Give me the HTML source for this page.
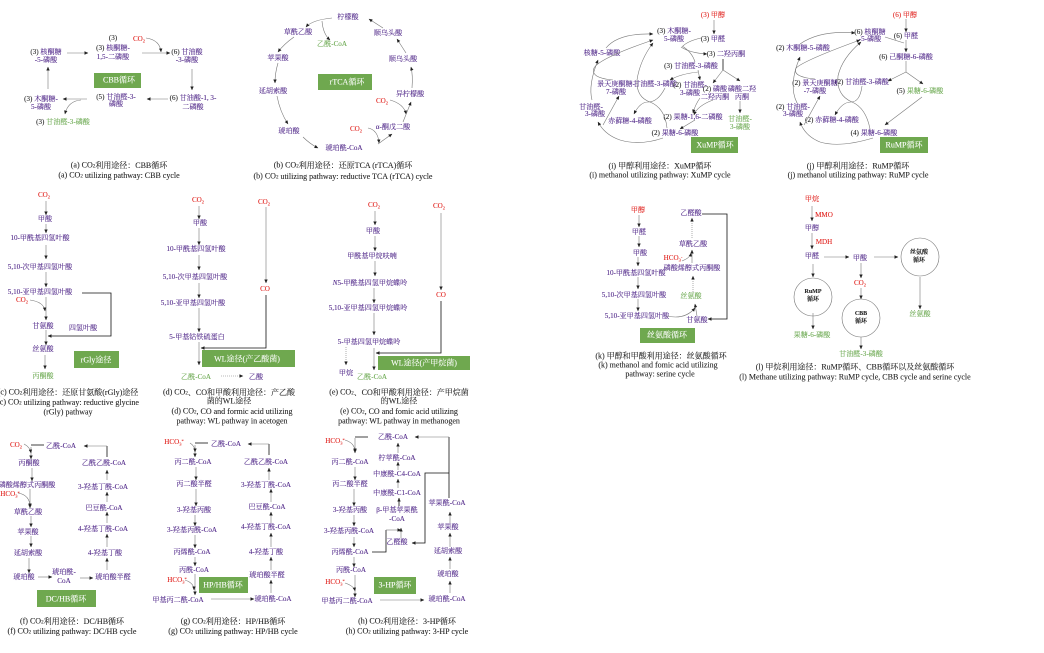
<!DOCTYPE html>
<html><head><meta charset="utf-8"><style>
html,body{margin:0;padding:0;background:#fff;width:1044px;height:653px;overflow:hidden}
svg{display:block;filter:blur(.35px)}
text{font-family:"Liberation Serif","Noto Serif CJK SC",serif;font-size:7.1px;text-anchor:middle;dominant-baseline:central;fill:#4f2688;stroke:#4f2688;stroke-width:.08}
.r,.r tspan{fill:#e0201c;stroke:#e0201c}.g{fill:#6aa84f;stroke:#6aa84f}.k{fill:#222;stroke:#222}
.c{fill:#222;stroke:#222;font-size:8px}
.b{fill:#fff;stroke:#fff;font-size:8px}
.d{fill:#222;stroke:#222;font-weight:bold;font-size:6px}
rect{fill:#6fa84f}
path{fill:none;stroke:#777;stroke-width:.6}
.a{marker-end:url(#m)}
.h{stroke:#111;stroke-width:.8}
.t{stroke-dasharray:1 1}
circle{fill:none;stroke:#777;stroke-width:.6}
</style></head><body>
<svg width="1044" height="653" viewBox="0 0 1044 653" xmlns="http://www.w3.org/2000/svg">
<defs><marker id="m" markerUnits="userSpaceOnUse" markerWidth="4" markerHeight="4" refX="3.5" refY="2" orient="auto"><path d="M0,.3L3.8,2L0,3.7z" style="fill:#222;stroke:none"/></marker></defs>

<!-- a -->
<text x="113" y="38" class="k">(3)</text>
<text x="113" y="48"><tspan class="k">(3) </tspan>核酮糖-</text><text x="113" y="57">1,5-二磷酸</text>
<text x="139" y="39" class="r">CO<tspan dy="1.5" font-size="4.5">2</tspan></text>
<text x="187" y="52"><tspan class="k">(6) </tspan>甘油酸</text><text x="187" y="60">-3-磷酸</text>
<text x="46" y="52"><tspan class="k">(3) </tspan>核酮糖</text><text x="46" y="60">-5-磷酸</text>
<rect x="94" y="73" width="47" height="15"/><text x="119" y="80" class="b">CBB循环</text>
<text x="193" y="98"><tspan class="k">(6) </tspan>甘油酸-1, 3-</text><text x="193" y="107">二磷酸</text>
<text x="116" y="97"><tspan class="k">(5) </tspan>甘油醛-3-</text><text x="116" y="104">磷酸</text>
<text x="41" y="99"><tspan class="k">(3) </tspan>木酮糖-</text><text x="41" y="107">5-磷酸</text>
<text x="63" y="122" class="g"><tspan class="k">(3) </tspan>甘油醛-3-磷酸</text>
<text x="119" y="165" class="c">(a) CO<tspan dy="1.5" font-size="5">2</tspan><tspan dy="-1.5">利用途径：CBB循环</tspan></text>
<text x="119" y="175" class="c">(a) CO<tspan dy="1.5" font-size="5">2</tspan><tspan dy="-1.5"> utilizing pathway: CBB cycle</tspan></text>
<path class="a" d="M67,53H88"/><path class="a" d="M142,53H170"/><path class="a" d="M146,38Q160,40 161,52"/>
<path class="a" d="M192,69V90"/><path class="a" d="M168,99H147"/><path class="a" d="M87,99H63"/>
<path class="a" d="M81,100Q68,101 65,114"/><path class="a" d="M48,89V67"/>

<!-- b -->
<text x="348" y="17">柠檬酸</text><text x="298" y="32">草酰乙酸</text><text x="332" y="44" class="g">乙酰-CoA</text>
<text x="278" y="58">苹果酸</text><text x="273" y="91">延胡索酸</text><text x="289" y="131">琥珀酸</text>
<text x="344" y="148">琥珀酰-CoA</text><text x="393" y="127">α-酮戊二酸</text>
<text x="356" y="129" class="r">CO<tspan dy="1.5" font-size="4.5">2</tspan></text><text x="382" y="101" class="r">CO<tspan dy="1.5" font-size="4.5">2</tspan></text>
<text x="410" y="94">异柠檬酸</text><text x="403" y="59">顺乌头酸</text><text x="388" y="33">顺乌头酸</text>
<rect x="318" y="74" width="54" height="16"/><text x="347" y="82" class="b">rTCA循环</text>
<text x="343" y="165" class="c">(b) CO<tspan dy="1.5" font-size="5">2</tspan><tspan dy="-1.5">利用途径：还原TCA (rTCA)循环</tspan></text>
<text x="343" y="176" class="c">(b) CO<tspan dy="1.5" font-size="5">2</tspan><tspan dy="-1.5"> utilizing pathway: reductive TCA (rTCA) cycle</tspan></text>
<path class="a" d="M332,18Q312,20 306,27"/><path class="a" d="M322,21Q323,34 330,40"/>
<path class="a" d="M294,37Q284,44 278,52"/><path class="a" d="M278,63Q275,73 275,83"/>
<path class="a" d="M277,96Q280,112 288,124"/><path class="a" d="M303,137Q310,144 318,148"/>
<path class="a" d="M378,144L392,134"/><path class="a" d="M368,128Q378,130 379,143"/>
<path class="a" d="M403,122L411,102"/><path class="a" d="M390,100Q404,104 406,114"/>
<path class="a" d="M412,88Q413,75 411,67"/><path class="a" d="M406,53L397,39"/><path class="a" d="M383,28L369,19"/>

<!-- i -->
<text x="713" y="15" class="r"><tspan class="k">(3) </tspan>甲醇</text><text x="713" y="39"><tspan class="k">(3) </tspan>甲醛</text>
<text x="674" y="31"><tspan class="k">(3) </tspan>木酮糖-</text><text x="674" y="39">5-磷酸</text>
<text x="602" y="53">核糖-5-磷酸</text><text x="726" y="54"><tspan class="k">(3) </tspan>二羟丙酮</text>
<text x="691" y="66"><tspan class="k">(3) </tspan>甘油醛-3-磷酸</text>
<text x="616" y="84">景天庚酮糖-</text><text x="616" y="92">7-磷酸</text><text x="655" y="84">甘油醛-3-磷酸</text>
<text x="690" y="85"><tspan class="k">(2) </tspan>甘油醛-</text><text x="690" y="93">3-磷酸</text>
<text x="715" y="89"><tspan class="k">(2) </tspan>磷酸</text><text x="715" y="97">二羟丙酮</text>
<text x="742" y="89">磷酸二羟</text><text x="742" y="97">丙酮</text>
<text x="740" y="119" class="g">甘油醛-</text><text x="740" y="127" class="g">3-磷酸</text>
<text x="591" y="107">甘油醛-</text><text x="595" y="114">3-磷酸</text><text x="630" y="121">赤藓糖-4-磷酸</text>
<text x="693" y="117"><tspan class="k">(2) </tspan>果糖-1,6-二磷酸</text><text x="675" y="133"><tspan class="k">(2) </tspan>果糖-6-磷酸</text>
<rect x="691" y="137" width="47" height="16"/><text x="715" y="145" class="b">XuMP循环</text>
<text x="660" y="166" class="c">(i) 甲醇利用途径：XuMP循环</text><text x="660" y="175" class="c">(i) methanol utilizing pathway: XuMP cycle</text>
<path class="a" d="M714,20V34"/><path d="M701,38Q688,41 683,46"/><path class="a" d="M681,47Q690,53 707,54"/>
<path d="M682,46Q692,52 695,62"/><path class="a" d="M698,70L700,80"/>
<path class="h" d="M723,59V70"/><path class="a" d="M723,70L713,83"/><path class="a" d="M723,70L740,81"/><path class="a" d="M740,101V113"/>
<path class="a" d="M698,72Q680,74 670,80"/><path class="a" d="M700,98Q695,105 693,113"/><path class="a" d="M713,100Q697,106 694,115"/>
<path class="a" d="M695,120L680,129"/>
<path class="a" d="M667,128Q665,108 650,102Q636,97 637,80Q640,60 653,43"/>
<path class="a" d="M665,88Q658,102 648,102Q640,102 634,114"/>
<path class="a" d="M663,138Q640,146 620,140Q605,135 598,122"/>
<path class="a" d="M603,125L619,96"/><path class="a" d="M592,100Q588,85 598,60"/>
<path class="a" d="M606,48Q618,33 653,34"/><path class="a" d="M613,80Q590,78 594,68Q600,58 653,40"/>

<!-- j -->
<text x="905" y="15" class="r"><tspan class="k">(6) </tspan>甲醇</text><text x="906" y="36"><tspan class="k">(6) </tspan>甲醛</text>
<text x="870" y="32"><tspan class="k">(6) </tspan>核酮糖</text><text x="870" y="39">-5-磷酸</text>
<text x="803" y="48"><tspan class="k">(2) </tspan>木酮糖-5-磷酸</text><text x="906" y="57"><tspan class="k">(6) </tspan>己酮糖-6-磷酸</text>
<text x="862" y="82"><tspan class="k">(2) </tspan>甘油醛-3-磷酸</text><text x="920" y="91" class="g"><tspan class="k">(5) </tspan>果糖-6-磷酸</text>
<text x="815" y="83"><tspan class="k">(2) </tspan>景天庚酮糖</text><text x="815" y="91">-7-磷酸</text>
<text x="793" y="107"><tspan class="k">(2) </tspan>甘油醛-</text><text x="793" y="114">3-磷酸</text>
<text x="832" y="120"><tspan class="k">(2) </tspan>赤藓糖-4-磷酸</text><text x="874" y="133"><tspan class="k">(4) </tspan>果糖-6-磷酸</text>
<rect x="880" y="137" width="48" height="16"/><text x="904" y="145" class="b">RuMP循环</text>
<text x="858" y="166" class="c">(j) 甲醇利用途径：RuMP循环</text><text x="858" y="175" class="c">(j) methanol utilizing pathway: RuMP cycle</text>
<path class="a" d="M906,19V32"/><path d="M885,37L904,43"/><path class="a" d="M906,40V52"/><path d="M906,61V72"/>
<path class="a" d="M906,72L888,81"/><path class="a" d="M906,72L923,84"/><path class="a" d="M922,97L885,125"/>
<path class="a" d="M870,129Q866,108 852,102Q836,95 838,76Q842,58 861,42"/>
<path class="a" d="M862,86Q860,102 851,102Q842,102 835,115"/>
<path class="a" d="M873,138Q840,148 820,142Q805,136 800,122"/>
<path class="a" d="M804,125L820,96"/><path class="a" d="M797,103Q788,85 800,57"/>
<path class="a" d="M800,44Q820,30 855,33"/><path class="a" d="M815,79Q792,77 796,68Q805,60 860,40"/>

<!-- c -->
<text x="44" y="195" class="r">CO<tspan dy="1.5" font-size="4.5">2</tspan></text><text x="45" y="219">甲酸</text>
<text x="40" y="238">10-甲酰基四氢叶酸</text><text x="40" y="267">5,10-次甲基四氢叶酸</text><text x="40" y="292">5,10-亚甲基四氢叶酸</text>
<text x="22" y="300" class="r">CO<tspan dy="1.5" font-size="4.5">2</tspan></text><text x="43" y="326">甘氨酸</text><text x="83" y="328">四氢叶酸</text>
<text x="43" y="349">丝氨酸</text><text x="43" y="376" class="g">丙酮酸</text>
<rect x="74" y="351" width="45" height="17"/><text x="96" y="360" class="b">rGly途径</text>
<text x="68" y="392" class="c">(c) CO<tspan dy="1.5" font-size="5">2</tspan><tspan dy="-1.5">利用途径：还原甘氨酸(rGly)途径</tspan></text>
<text x="68" y="402" class="c">(c) CO<tspan dy="1.5" font-size="5">2</tspan><tspan dy="-1.5"> utilizing pathway: reductive glycine</tspan></text>
<text x="68" y="412" class="c">(rGly) pathway</text>
<path class="a" d="M46,201V215"/><path class="a" d="M46,224V233"/><path class="a" d="M46,245V259"/><path class="a" d="M46,272V287"/>
<path class="a" d="M46,297V320"/><path class="a" d="M30,300Q44,302 45,311"/><path class="a" d="M46,330V345"/><path class="a" d="M45,355V369"/>
<path class="a h" d="M82,293H111V336H48"/>

<!-- d -->
<text x="198" y="200" class="r">CO<tspan dy="1.5" font-size="4.5">2</tspan></text><text x="264" y="202" class="r">CO<tspan dy="1.5" font-size="4.5">2</tspan></text>
<text x="200" y="223">甲酸</text><text x="196" y="249">10-甲酰基四氢叶酸</text><text x="195" y="277">5,10-次甲基四氢叶酸</text>
<text x="193" y="303">5,10-亚甲基四氢叶酸</text><text x="197" y="337">5-甲基钴铁硫蛋白</text><text x="265" y="289" class="r">CO</text>
<rect x="202" y="350" width="93" height="17"/><text x="247" y="359" class="b">WL途径(产乙酸菌)</text>
<text x="196" y="377" class="g">乙酰-CoA</text><text x="256" y="377">乙酸</text>
<text x="229" y="392" class="c">(d) CO<tspan dy="1.5" font-size="5">2</tspan><tspan dy="-1.5">、CO和甲酸利用途径：产乙酸</tspan></text>
<text x="229" y="401" class="c">菌的WL途径</text>
<text x="232" y="411" class="c">(d) CO<tspan dy="1.5" font-size="5">2</tspan><tspan dy="-1.5">, CO and formic acid utilizing</tspan></text>
<text x="232" y="421" class="c">pathway: WL pathway in acetogen</text>
<path class="a" d="M199,206V219"/><path class="a" d="M199,228V245"/><path class="a" d="M199,255V270"/><path class="a" d="M199,283V298"/>
<path class="a" d="M199,308V332"/><path class="a" d="M199,342V365"/><path class="a" d="M266,207V283"/>
<path class="a h" d="M266,295V348H201"/><path class="a t" d="M221,376H243"/>

<!-- e -->
<text x="374" y="205" class="r">CO<tspan dy="1.5" font-size="4.5">2</tspan></text><text x="439" y="206" class="r">CO<tspan dy="1.5" font-size="4.5">2</tspan></text>
<text x="373" y="231">甲酸</text><text x="372" y="256">甲酰基甲烷呋喃</text><text x="370" y="283"><tspan font-style="italic">N</tspan>5-甲酰基四氢甲烷蝶呤</text>
<text x="368" y="308">5,10-亚甲基四氢甲烷蝶呤</text><text x="369" y="342">5-甲基四氢甲烷蝶呤</text><text x="441" y="295" class="r">CO</text>
<rect x="378" y="356" width="92" height="14"/><text x="424" y="363" class="b">WL途径(产甲烷菌)</text>
<text x="346" y="373">甲烷</text><text x="372" y="377" class="g">乙酰-CoA</text>
<text x="399" y="392" class="c">(e) CO<tspan dy="1.5" font-size="5">2</tspan><tspan dy="-1.5">、CO和甲酸利用途径：产甲烷菌</tspan></text>
<text x="399" y="401" class="c">的WL途径</text>
<text x="399" y="411" class="c">(e) CO<tspan dy="1.5" font-size="5">2</tspan><tspan dy="-1.5">, CO and fomic acid utilizing</tspan></text>
<text x="399" y="421" class="c">pathway: WL pathway in methanogen</text>
<path class="a" d="M375,211V225"/><path class="a" d="M375,236V251"/><path class="a" d="M375,261V276"/><path class="a" d="M374,288V303"/>
<path class="a" d="M374,313V335"/><path class="a" d="M374,348V370"/><path class="a t" d="M346,347V365"/><path class="a" d="M441,213V290"/>
<path class="a h" d="M441,301V353H376"/>

<!-- k -->
<text x="638" y="210" class="r">甲醇</text><text x="639" y="232">甲醛</text><text x="640" y="253">甲酸</text>
<text x="636" y="273">10-甲酰基四氢叶酸</text><text x="634" y="295">5,10-次甲基四氢叶酸</text><text x="637" y="316">5,10-亚甲基四氢叶酸</text>
<text x="691" y="213">乙醛酸</text><text x="693" y="244">草酰乙酸</text><text x="673" y="258" class="r">HCO<tspan dy="1.5" font-size="4.5">3</tspan><tspan dy="-3" font-size="4.5">-</tspan></text>
<text x="692" y="268">磷酸烯醇式丙酮酸</text><text x="691" y="296" class="g">丝氨酸</text><text x="697" y="320">甘氨酸</text>
<rect x="640" y="328" width="55" height="15"/><text x="667" y="335" class="b">丝氨酸循环</text>
<text x="661" y="356" class="c">(k) 甲醇和甲酸利用途径：丝氨酸循环</text><text x="658" y="365" class="c">(k) methanol and fomic acid utilizing</text><text x="660" y="374" class="c">pathway: serine cycle</text>
<path class="a" d="M639,215V227"/><path class="a" d="M639,236V247"/><path class="a" d="M638,257V266"/><path class="a" d="M638,277V289"/><path class="a" d="M638,299V311"/>
<path class="a" d="M667,316Q685,320 695,308"/><path class="a" d="M697,316L695,304"/><path class="a t" d="M693,292V276"/>
<path class="a" d="M692,263V250"/><path class="a" d="M682,261Q690,258 691,253"/><path class="a t" d="M692,238V218"/>
<path class="a h" d="M702,214H727V319H708"/>

<!-- l -->
<text x="812" y="199" class="r">甲烷</text><text x="824" y="215" class="r">MMO</text><text x="812" y="228">甲醇</text><text x="824" y="242" class="r">MDH</text>
<text x="812" y="256">甲醛</text><text x="860" y="258">甲酸</text><text x="860" y="283" class="r">CO<tspan dy="1.5" font-size="4.5">2</tspan></text>
<circle cx="920" cy="257" r="19"/><text x="919" y="253" class="d">丝氨酸</text><text x="919" y="261" class="d">循环</text>
<circle cx="813" cy="297" r="19"/><text x="813" y="292" class="d">RuMP</text><text x="813" y="300" class="d">循环</text>
<circle cx="861" cy="318" r="19"/><text x="861" y="314" class="d">CBB</text><text x="861" y="322" class="d">循环</text>
<text x="812" y="335" class="g">果糖-6-磷酸</text><text x="861" y="354" class="g">甘油醛-3-磷酸</text><text x="920" y="314" class="g">丝氨酸</text>
<text x="855" y="367" class="c">(l) 甲烷利用途径：RuMP循环、CBB循环以及丝氨酸循环</text>
<text x="855" y="377" class="c">(l) Methane utilizing pathway: RuMP cycle, CBB cycle and serine cycle</text>
<path class="a" d="M812,206V221"/><path class="a" d="M812,233V249"/><path class="a" d="M824,257H849"/><path class="a" d="M874,257H898"/>
<path class="a" d="M813,264V277"/><path class="a" d="M861,263V278"/><path class="a" d="M861,288V299"/><path class="a" d="M920,277V309"/>
<path class="a" d="M813,313V329"/><path class="a" d="M861,337V349"/>

<!-- f -->
<text x="16" y="445" class="r">CO<tspan dy="1.5" font-size="4.5">2</tspan></text><text x="61" y="446">乙酰-CoA</text><text x="29" y="463">丙酮酸</text>
<text x="27" y="485">磷酸烯醇式丙酮酸</text><text x="10" y="494" class="r">HCO<tspan dy="1.5" font-size="4.5">3</tspan><tspan dy="-3" font-size="4.5">*</tspan></text>
<text x="28" y="512">草酰乙酸</text><text x="28" y="532">苹果酸</text><text x="28" y="553">延胡索酸</text><text x="24" y="577">琥珀酸</text>
<text x="64" y="572">琥珀酰-</text><text x="64" y="581">CoA</text><text x="113" y="577">琥珀酸半醛</text><text x="105" y="553">4-羟基丁酸</text>
<text x="103" y="529">4-羟基丁酰-CoA</text><text x="104" y="508">巴豆酰-CoA</text><text x="103" y="487">3-羟基丁酰-CoA</text><text x="104" y="463">乙酰乙酰-CoA</text>
<rect x="37" y="590" width="59" height="17"/><text x="66" y="599" class="b">DC/HB循环</text>
<text x="72" y="621" class="c">(f) CO<tspan dy="1.5" font-size="5">2</tspan><tspan dy="-1.5">利用途径：DC/HB循环</tspan></text>
<text x="72" y="631" class="c">(f) CO<tspan dy="1.5" font-size="5">2</tspan><tspan dy="-1.5"> utilizing pathway: DC/HB cycle</tspan></text>
<path class="h" d="M44,445H31"/><path class="a" d="M31,447V459"/><path class="a" d="M24,444Q30,447 31,453"/><path class="a" d="M32,468V481"/>
<path class="a" d="M30,489V508"/><path class="a" d="M18,493Q30,495 30,507"/><path class="a" d="M31,516V527"/><path class="a" d="M31,536V547"/><path class="a" d="M29,558V573"/>
<path class="a" d="M38,577H52"/><path class="a" d="M80,578H93"/><path class="a" d="M107,570V558"/><path class="a" d="M107,547V534"/><path class="a" d="M107,523V512"/>
<path class="a" d="M107,502V492"/><path class="a" d="M107,480V470"/><path class="h" d="M107,457V446"/><path class="a" d="M107,446H84"/>

<!-- g -->
<text x="174" y="442" class="r">HCO<tspan dy="1.5" font-size="4.5">3</tspan><tspan dy="-3" font-size="4.5">*</tspan></text><text x="226" y="444">乙酰-CoA</text><text x="193" y="462">丙二酰-CoA</text>
<text x="194" y="484">丙二酸半醛</text><text x="194" y="510">3-羟基丙酸</text><text x="192" y="530">3-羟基丙酰-CoA</text><text x="192" y="552">丙烯酰-CoA</text>
<text x="194" y="570">丙酰-CoA</text><text x="177" y="580" class="r">HCO<tspan dy="1.5" font-size="4.5">3</tspan><tspan dy="-3" font-size="4.5">*</tspan></text><text x="178" y="600">甲基丙二酰-CoA</text>
<text x="273" y="599">琥珀酰-CoA</text><text x="267" y="575">琥珀酸半醛</text><text x="266" y="552">4-羟基丁酸</text><text x="266" y="527">4-羟基丁酰-CoA</text>
<text x="267" y="507">巴豆酰-CoA</text><text x="266" y="485">3-羟基丁酰-CoA</text><text x="266" y="462">乙酰乙酰-CoA</text>
<rect x="199" y="577" width="49" height="16"/><text x="223" y="585" class="b">HP/HB循环</text>
<text x="233" y="621" class="c">(g) CO<tspan dy="1.5" font-size="5">2</tspan><tspan dy="-1.5">利用途径：HP/HB循环</tspan></text>
<text x="233" y="631" class="c">(g) CO<tspan dy="1.5" font-size="5">2</tspan><tspan dy="-1.5"> utilizing pathway: HP/HB cycle</tspan></text>
<path class="h" d="M208,443H195"/><path class="a" d="M195,445V457"/><path class="a" d="M190,443Q195,446 195,452"/><path class="a" d="M196,467V480"/><path class="a" d="M196,489V506"/>
<path class="a" d="M195,515V526"/><path class="a" d="M195,535V548"/><path class="a" d="M195,557V566"/><path class="a" d="M195,574V595"/><path class="a" d="M185,580Q194,583 194,590"/>
<path class="a" d="M211,599H254"/><path class="a" d="M271,593V580"/><path class="a" d="M271,570V557"/><path class="a" d="M271,547V533"/><path class="a" d="M271,523V512"/>
<path class="a" d="M271,502V489"/><path class="a" d="M269,480V468"/><path class="h" d="M269,455V444"/><path class="a" d="M269,444H248"/>

<!-- h -->
<text x="335" y="441" class="r">HCO<tspan dy="1.5" font-size="4.5">3</tspan><tspan dy="-3" font-size="4.5">*</tspan></text><text x="393" y="437">乙酰-CoA</text><text x="350" y="462">丙二酰-CoA</text>
<text x="397" y="458">柠苹酰-CoA</text><text x="397" y="474">中康酰-C4-CoA</text><text x="397" y="493">中康酰-C1-CoA</text>
<text x="397" y="510">β-甲基苹果酰</text><text x="397" y="519">-CoA</text><text x="350" y="484">丙二酸半醛</text><text x="350" y="510">3-羟基丙酸</text>
<text x="349" y="531">3-羟基丙酰-CoA</text><text x="350" y="552">丙烯酰-CoA</text><text x="351" y="570">丙酰-CoA</text>
<text x="335" y="582" class="r">HCO<tspan dy="1.5" font-size="4.5">3</tspan><tspan dy="-3" font-size="4.5">*</tspan></text><text x="347" y="601">甲基丙二酰-CoA</text>
<text x="447" y="599">琥珀酰-CoA</text><text x="448" y="574">琥珀酸</text><text x="448" y="551">延胡索酸</text><text x="448" y="527">苹果酸</text><text x="447" y="503">苹果酰-CoA</text><text x="397" y="542">乙醛酸</text>
<rect x="374" y="577" width="42" height="17"/><text x="395" y="585" class="b">3-HP循环</text>
<text x="407" y="621" class="c">(h) CO<tspan dy="1.5" font-size="5">2</tspan><tspan dy="-1.5">利用途径：3-HP循环</tspan></text>
<text x="407" y="631" class="c">(h) CO<tspan dy="1.5" font-size="5">2</tspan><tspan dy="-1.5"> utilizing pathway: 3-HP cycle</tspan></text>
<path class="h" d="M368,437H355"/><path class="a" d="M355,438V453"/><path class="a" d="M345,440Q355,443 355,452"/><path class="a" d="M355,467V480"/><path class="a" d="M354,489V506"/>
<path class="a" d="M354,515V526"/><path class="a" d="M354,537V547"/><path class="a" d="M354,557V567"/><path class="a" d="M355,575V597"/><path class="a" d="M345,583Q354,586 355,591"/>
<path class="a" d="M380,600H424"/><path class="a" d="M450,593V581"/><path class="a" d="M450,569V557"/><path class="a" d="M450,547V533"/><path class="a" d="M450,523V512"/>
<path class="h" d="M372,552H386V530"/><path class="a" d="M386,530H401"/><path class="a" d="M401,538V528"/><path class="a h" d="M399,506V498"/>
<path class="a" d="M398,488V479"/><path class="a" d="M398,470V462"/><path class="a" d="M398,453V443"/>
<path class="h" d="M449,498V437"/><path class="a" d="M449,437H415"/><path class="a h" d="M449,473H425V543H412"/>
</svg>
</body></html>
